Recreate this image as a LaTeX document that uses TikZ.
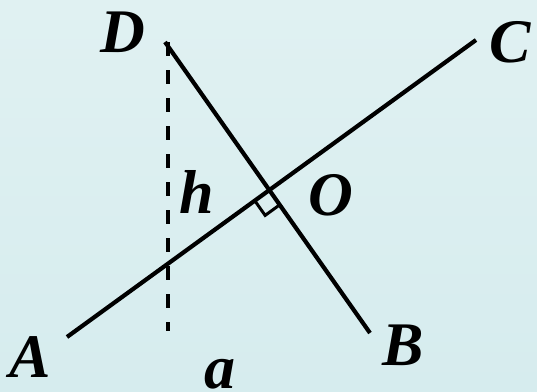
\documentclass[tikz,border=0pt]{standalone}
\usepackage{fontspec}
\setmainfont{Liberation Serif}
\usetikzlibrary{calc}
\begin{document}
\begin{tikzpicture}[x=1pt,y=-1pt,
  seg/.style={line width=4.2pt},
  dsh/.style={line width=4pt,dash pattern=on 14pt off 14pt},
  lbl/.style={anchor=base,inner sep=0pt,font=\fontsize{62}{64}\selectfont\bfseries\itshape}]
\shade[top color={rgb,255:red,224;green,241;blue,242},bottom color={rgb,255:red,214;green,236;blue,238}] (0,0) rectangle (537,391);
\useasboundingbox (0,0) rectangle (537,391);
\coordinate (A) at (67,337);
\coordinate (C) at (476,40);
\coordinate (D) at (165,42);
\coordinate (B) at (370,333);
\coordinate (Dt) at (168,42);
\coordinate (Db) at (168,331);
\coordinate (O) at (intersection of A--C and D--B);
\coordinate (P) at ($(O)!18pt!(A)$);
\coordinate (Q) at ($(O)!18pt!(B)$);
\coordinate (R) at ($(P)+(Q)-(O)$);
\draw[seg] (A) -- (C);
\draw[seg] (D) -- (B);
\draw[dsh] (Dt) -- (Db);
\draw[line width=3pt] (P) -- (R) -- (Q);
\node[lbl] (lD) at (123,52) {D};
\node[lbl] (lC) at (510,62) {C};
\node[lbl] (lh) at (197,213) {h};
\node[lbl] (lO) at (331,215) {O};
\node[lbl] (lA) at (30,377) {A};
\node[lbl] (lB) at (403,365) {B};
\node[lbl] (la) at (220,388) {a};
\end{tikzpicture}
\end{document}
